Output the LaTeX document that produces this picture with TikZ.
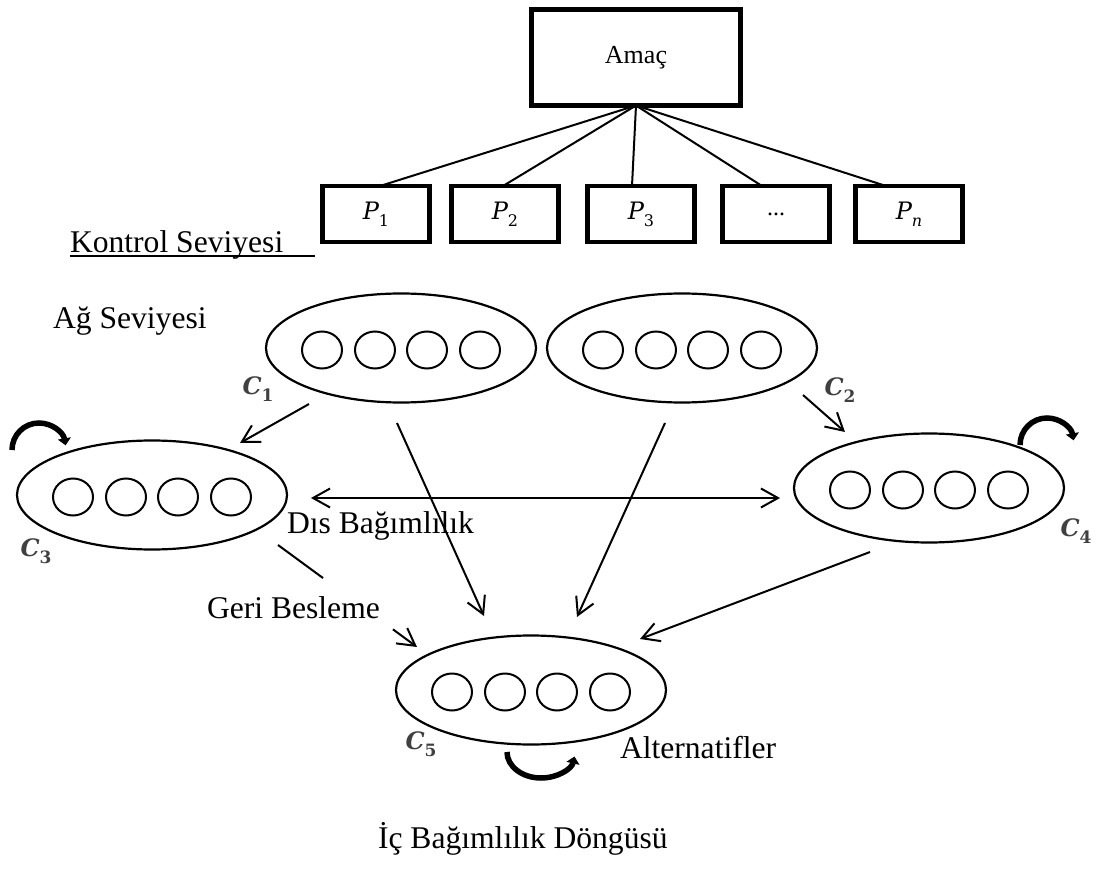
\documentclass[tikz,border=0pt]{standalone}
\usepackage{fontspec}
\setmainfont{Liberation Serif}
\newfontfamily\dvs{DejaVu Serif}
\newcommand\sublab[2]{{\dvs\itshape #1}\raisebox{-0.3em}{\fontsize{16}{19}\selectfont\dvs #2}}
\newcommand\clabtext[2]{{\dvs\bfseries\itshape #1}\raisebox{-0.3em}{\fontsize{17}{20}\selectfont\dvs\bfseries #2}}
\usetikzlibrary{shapes.geometric,arrows.meta}
\begin{document}
\begin{tikzpicture}[x=1pt,y=-1pt,
  every node/.style={inner sep=0pt, outer sep=0pt},
  ell/.style={draw, ellipse, line width=2.2pt, minimum width=270pt, minimum height=109pt},
  dot/.style={draw, ellipse, line width=2pt, minimum width=40pt, minimum height=37pt},
  pbox/.style={draw, rectangle, line width=4.5pt, minimum width=107pt, minimum height=56pt, font=\fontsize{24}{28}\selectfont},
  amacbox/.style={draw, rectangle, line width=4.5pt, minimum width=209pt, minimum height=96pt, font=\fontsize{26}{30}\selectfont},
  conn/.style={line width=2pt},
  arr/.style={line width=2pt, -{Straight Barb[length=17pt,width=19pt]}},
  darr/.style={line width=2pt, {Straight Barb[length=17pt,width=19pt]}-{Straight Barb[length=17pt,width=19pt]}},
  selfloop/.style={line width=5.5pt, -{Triangle[length=7pt,width=13pt]}},
  lbl/.style={font=\fontsize{31.6}{38}\selectfont, anchor=base west},
  clab/.style={font=\fontsize{24}{28}\selectfont, text=black!75}
]
\useasboundingbox (0,0) rectangle (1103,869);

% top hierarchy
\node[amacbox] (amac) at (636,57.5) {Amaç};
\node[pbox] (P1) at (376,214) {\sublab{P}{1}};
\node[pbox] (P2) at (505,214) {\sublab{P}{2}};
\node[pbox] (P3) at (641,214) {\sublab{P}{3}};
\node[pbox] (Pd) at (776,214) {...};
\node[pbox] (Pn) at (909,214) {\sublab{P}{\itshape n}};
\draw[conn] (amac.south) -- ([xshift=4pt]P1.north);
\draw[conn] (amac.south) -- ([xshift=-2pt]P2.north);
\draw[conn] (amac.south) -- ([xshift=-9pt]P3.north);
\draw[conn] (amac.south) -- ([xshift=-14pt]Pd.north);
\draw[conn] (amac.south) -- ([xshift=-23pt]Pn.north);

% level labels
\node[lbl] (kontrol) at (70,252) {Kontrol Seviyesi};
\coordinate (ulend) at (315,256);
\draw[line width=1.8pt] (kontrol.base west |- ulend) -- (ulend);
\node[lbl] (ag) at (53,328) {Ağ Seviyesi};

% clusters
\foreach \n/\x/\y in {C1/401/348, C2/682/348, C3/152/495, C4/929/488, C5/531/690} {
  \node[ell] (\n) at (\x,\y) {};
  \foreach \dx [count=\i] in {-79,-26,26,79}
    \node[dot] (\n-\i) at (\x+\dx,\y+2) {};
}

% cluster labels
\node[clab] (l1) at (258,389) {\clabtext{C}{1}};
\node[clab] (l2) at (840,390) {\clabtext{C}{2}};
\node[clab] (l3) at (36,551) {\clabtext{C}{3}};
\node[clab] (l4) at (1076,531) {\clabtext{C}{4}};
\node[clab] (l5) at (421,744) {\clabtext{C}{5}};

% other labels
\node[lbl] (dis) at (287,533) {Dıs Bağımlılık};
\node[lbl] (geri) at (207,618) {Geri Besleme};
\node[lbl] (alt) at (620,758) {Alternatifler};
\node[lbl] (ic) at (378,848) {İç Bağımlılık Döngüsü};

% connector end points
\coordinate (a13s) at (309,404);  \coordinate (a13e) at (240,443);
\coordinate (a15s) at (397,423);  \coordinate (a15e) at (484,616);
\coordinate (a25s) at (665,423);  \coordinate (a25e) at (577,617);
\coordinate (a24s) at (803,395);  \coordinate (a24e) at (845,432);
\coordinate (a45s) at (870,552);  \coordinate (a45e) at (640,639);
\coordinate (d34l) at (311,498);  \coordinate (d34r) at (780,498);
\coordinate (fbA) at (278,545);   \coordinate (fbD) at (417,647);
\path (fbA) -- (fbD) coordinate[pos=0.324] (fbB) coordinate[pos=0.827] (fbC);

\draw[arr] (a13s) -- (a13e);
\draw[arr] (a15s) -- (a15e);
\draw[arr] (a25s) -- (a25e);
\draw[arr] (a24s) -- (a24e);
\draw[arr] (a45s) -- (a45e);
\draw[darr] (d34l) -- (d34r);
\draw[conn] (fbA) -- (fbB);
\draw[arr] (fbC) -- (fbD);

% self loops
\draw[selfloop] (12,450) arc[start angle=180, end angle=10, radius=27pt];
\draw[selfloop] (1020,445) arc[start angle=180, end angle=10, radius=27pt];
\draw[selfloop] (507,752) arc[start angle=180, end angle=350, x radius=34pt, y radius=26pt];
\end{tikzpicture}
\end{document}
